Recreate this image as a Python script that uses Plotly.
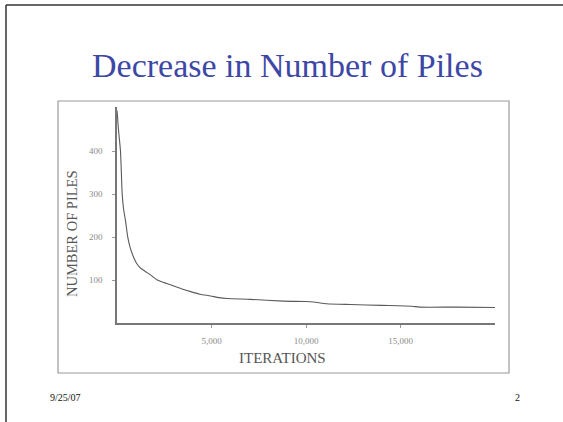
import plotly.graph_objects as go

iterations = [0, 30, 60, 100, 185, 275, 350, 450, 570, 700, 890, 1050, 1240, 1500, 1770,
              2130, 2500, 2830, 3400, 3900, 4400, 4950, 5400, 5830, 7060, 8800, 10000,
              10400, 11100, 12350, 14000, 15600, 16000, 18000, 20000]
piles = [495, 480, 460, 440, 400, 300, 265, 238, 200, 175, 152, 138, 128, 120, 112,
         100, 94, 89, 80, 73, 67, 63, 59, 57, 55, 51, 50, 49, 45, 43, 41, 39, 37, 37, 36]

x_ticks = [5000, 10000, 15000]
x_tick_text = ["5,000", "10,000", "15,000"]
y_ticks = [100, 200, 300, 400]
y_tick_text = ["100", "200", "300", "400"]

title_text = "Decrease in Number of Piles"
x_title = "ITERATIONS"
y_title = "NUMBER OF PILES"
footer_date = "9/25/07"
footer_page = "2"

W, H = 563, 422
L, R, T, B = 117, 68, 107, 99
PW, PH = W - L - R, H - T - B


def px(x):
    return (x - L) / PW


def py(y):
    return (H - B - y) / PH


serif = "Liberation Serif, Times New Roman, serif"

fig = go.Figure()
fig.add_trace(go.Scatter(x=iterations, y=piles, mode="lines", line_shape="spline",
                         line=dict(color="#5a5a5a", width=1.1, smoothing=0.6), hoverinfo="skip"))

fig.update_layout(
    width=W, height=H,
    margin=dict(l=L, r=R, t=T, b=B),
    paper_bgcolor="white", plot_bgcolor="white",
    showlegend=False,
    font=dict(family=serif),
    xaxis=dict(range=[0, 20000], tickvals=x_ticks, ticktext=x_tick_text,
               showgrid=False, zeroline=False, showline=True,
               linecolor="#777777", linewidth=1.5, ticks="outside",
               ticklen=3, tickcolor="#999999", ticklabelstandoff=5,
               tickfont=dict(family=serif, size=9, color="#8a8a8a")),
    yaxis=dict(range=[0, 503], tickvals=y_ticks, ticktext=y_tick_text,
               showgrid=False, zeroline=False, showline=True,
               linecolor="#777777", linewidth=1.5, ticks="outside",
               ticklen=3, tickcolor="#999999", ticklabelstandoff=8,
               tickfont=dict(family=serif, size=9, color="#8a8a8a")),
)

shapes = [
    dict(type="line", xref="paper", yref="paper", x0=px(6), x1=px(563), y0=py(5), y1=py(5),
         line=dict(color="#333333", width=1.5)),
    dict(type="line", xref="paper", yref="paper", x0=px(6), x1=px(6), y0=py(5), y1=py(422),
         line=dict(color="#333333", width=1.5)),
    dict(type="rect", xref="paper", yref="paper", x0=px(58), x1=px(509), y0=py(101), y1=py(373),
         line=dict(color="#9a9a9a", width=1.2)),
]
fig.update_layout(shapes=shapes)

annotations = [
    dict(text=title_text, x=px(287), y=py(65), font=dict(family=serif, size=34, color="#3d47a6")),
    dict(text=x_title, x=px(282), y=py(358), font=dict(family=serif, size=15, color="#555555")),
    dict(text=y_title, x=px(72), y=py(234), textangle=-90,
         font=dict(family=serif, size=14.5, color="#555555")),
    dict(text=footer_date, x=px(48), y=py(397), xanchor="left",
         font=dict(family=serif, size=10, color="#111111")),
    dict(text=footer_page, x=px(517), y=py(397), font=dict(family=serif, size=10, color="#111111")),
]
for a in annotations:
    a.update(xref="paper", yref="paper", showarrow=False, yanchor="middle")
    a.setdefault("xanchor", "center")
fig.update_layout(annotations=annotations)

fig.write_html("out.html")
